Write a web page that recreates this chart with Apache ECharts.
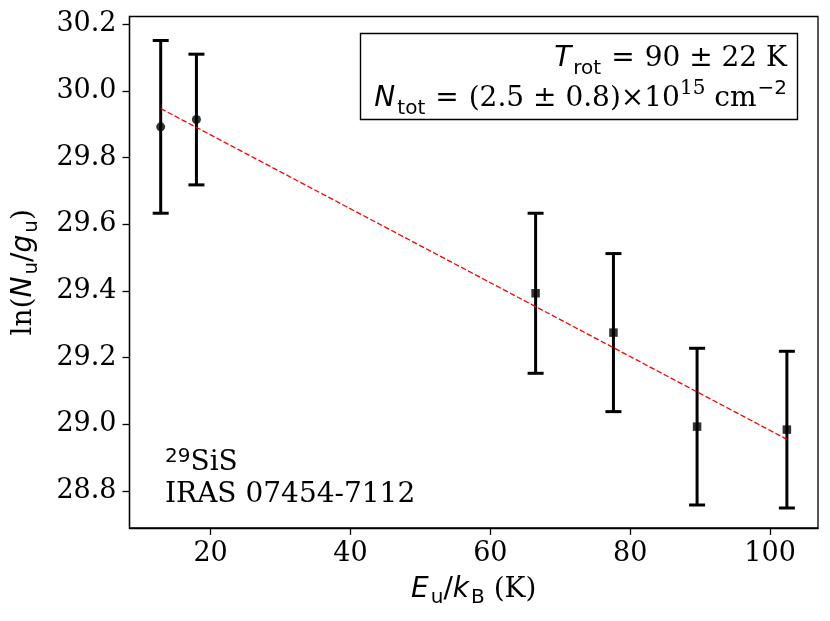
<!DOCTYPE html>
<html>
<head>
<meta charset="utf-8">
<script src="https://cdn.jsdelivr.net/npm/echarts@6/dist/echarts.min.js"></script>
<style>html,body{margin:0;padding:0;background:#fff}#c{width:830px;height:621px}</style>
</head>
<body>
<div id="c"></div>
<script>
// Data
const energyK   = [12.86, 17.97, 66.47, 77.6, 89.56, 102.4];
const lnNg      = [29.892, 29.914, 29.393, 29.275, 28.993, 28.984];
const lnNgErr   = [0.259, 0.196, 0.24, 0.237, 0.235, 0.235];
const markerShape = ['circle', 'circle', 'rect', 'rect', 'rect', 'rect'];
const fitX = [12.86, 102.4];
const fitY = [29.947, 28.955];
const xTicks = [20, 40, 60, 80, 100];
const yTicks = [28.8, 29.0, 29.2, 29.4, 29.6, 29.8, 30.0, 30.2];
const xRange = [8.4, 106.85];
const yRange = [28.689, 30.223];

const SERIF = 'DejaVu Serif';
const SANS = 'DejaVu Sans';
const FS = 27;   // tick labels
const TS = 28;   // annotations / axis names
const SS = 20;   // sub/superscripts

const chart = echarts.init(document.getElementById('c'), null, {renderer: 'canvas'});

const errData = energyK.map((x, i) => [x, lnNg[i], lnNgErr[i]]);
const ptData = energyK.map((x, i) => ({value: [x, lnNg[i]], symbol: markerShape[i], symbolSize: markerShape[i] === 'circle' ? 9 : 8.5}));
const fitData = fitX.map((x, i) => [x, fitY[i]]);

function mkRich(lh, subLh, supLh) {
  return {
    s: {fontFamily: SERIF, fontSize: TS, lineHeight: lh, color: '#000'},
    n: {fontFamily: SANS, fontSize: TS, lineHeight: lh, color: '#000'},
    eq: {fontFamily: SANS, fontSize: TS, lineHeight: lh, color: '#000', padding: [0, 10, 0, 10]},
    i: {fontFamily: SANS, fontStyle: 'italic', fontSize: TS, lineHeight: lh, color: '#000'},
    sub: {fontFamily: SANS, fontSize: SS, lineHeight: subLh, verticalAlign: 'bottom', color: '#000', padding: [0, 0, 0, 2]},
    sup: {fontFamily: SANS, fontSize: SS, lineHeight: supLh, verticalAlign: 'top', color: '#000', padding: [0, 0, 0, 1]},
    ssup: {fontFamily: SERIF, fontSize: SS, lineHeight: supLh, verticalAlign: 'top', color: '#000'}
  };
}
const richAxis = mkRich(36, 22, 22);

const option = {
  animation: false,
  backgroundColor: '#fff',
  grid: {left: 129.5, right: 12, top: 16.5, bottom: 93, show: true, borderColor: '#000', borderWidth: 1.3, backgroundColor: 'transparent'},
  xAxis: {
    type: 'value', min: xRange[0], max: xRange[1], splitNumber: 5,
    splitLine: {show: false},
    axisLine: {show: true, onZero: false, lineStyle: {color: '#000', width: 1.3}},
    axisTick: {show: true, inside: false, length: 7, lineStyle: {color: '#000', width: 1.3}, customValues: xTicks},
    axisLabel: {customValues: xTicks, color: '#000', fontFamily: SERIF, fontSize: FS, margin: 12, formatter: v => String(Math.round(v))},
    name: '{i|E}{sub|u}{n|/}{i|k}{sub|B}{s| (K)}',
    nameLocation: 'middle', nameGap: 44,
    nameTextStyle: {rich: richAxis}
  },
  yAxis: {
    type: 'value', min: yRange[0], max: yRange[1], splitNumber: 7,
    splitLine: {show: false},
    axisLine: {show: true, onZero: false, lineStyle: {color: '#000', width: 1.3}},
    axisTick: {show: true, inside: false, length: 7, lineStyle: {color: '#000', width: 1.3}, customValues: yTicks},
    axisLabel: {customValues: yTicks, color: '#000', fontFamily: SERIF, fontSize: FS, margin: 13, formatter: v => v.toFixed(1)},
    name: '{s|ln(}{i|N}{sub|u}{n|/}{i|g}{sub|u}{s|)}',
    nameLocation: 'middle', nameGap: 88, nameRotate: 90,
    nameTextStyle: {rich: richAxis, padding: [0, 0, 0, 0]}
  },
  series: [
    {
      type: 'custom', clip: false, z: 2,
      data: errData,
      renderItem: function (params, api) {
        const x = api.value(0), y = api.value(1), e = api.value(2);
        const top = api.coord([x, y + e]);
        const bot = api.coord([x, y - e]);
        const hw = 8;
        const st = {stroke: '#000', lineWidth: 3};
        return {
          type: 'group',
          children: [
            {type: 'line', shape: {x1: top[0], y1: top[1], x2: bot[0], y2: bot[1]}, style: st},
            {type: 'line', shape: {x1: top[0] - hw, y1: top[1], x2: top[0] + hw, y2: top[1]}, style: st},
            {type: 'line', shape: {x1: bot[0] - hw, y1: bot[1], x2: bot[0] + hw, y2: bot[1]}, style: st}
          ]
        };
      }
    },
    {
      type: 'scatter', z: 3, data: ptData,
      itemStyle: {color: '#000', borderWidth: 0}
    },
    {
      type: 'line', z: 4, data: fitData, symbol: 'none',
      lineStyle: {color: '#ff0000', width: 1.3, type: [5.5, 2.4]}
    }
  ],
  graphic: [
    {type: 'rect', shape: {x: 360.5, y: 33.5, width: 437, height: 86}, style: {fill: '#fff', stroke: '#000', lineWidth: 1.4}, z: 10},
    {type: 'text', x: 787, y: 79, z: 11, style: {
      text: '{i|T}{sub|rot}{eq|=}{s|90 ± 22 K}\n{i|N}{sub|tot}{eq|=}{s|(2.5 ± 0.8)×10}{ssup|15}{s| cm}{sup|−2}',
      align: 'right', verticalAlign: 'middle', rich: mkRich(40, 26, 28)
    }},
    {type: 'text', x: 165, y: 479, z: 11, style: {
      text: '{ssup|29}{s|SiS}\n{s|IRAS 07454-7112}',
      align: 'left', verticalAlign: 'middle', rich: {
        s: {fontFamily: SERIF, fontSize: TS, lineHeight: 32, color: '#000'},
        ssup: {fontFamily: SANS, fontSize: SS, lineHeight: 24, verticalAlign: 'top', color: '#000'}
      }
    }}
  ]
};
chart.setOption(option);
</script>
</body>
</html>
